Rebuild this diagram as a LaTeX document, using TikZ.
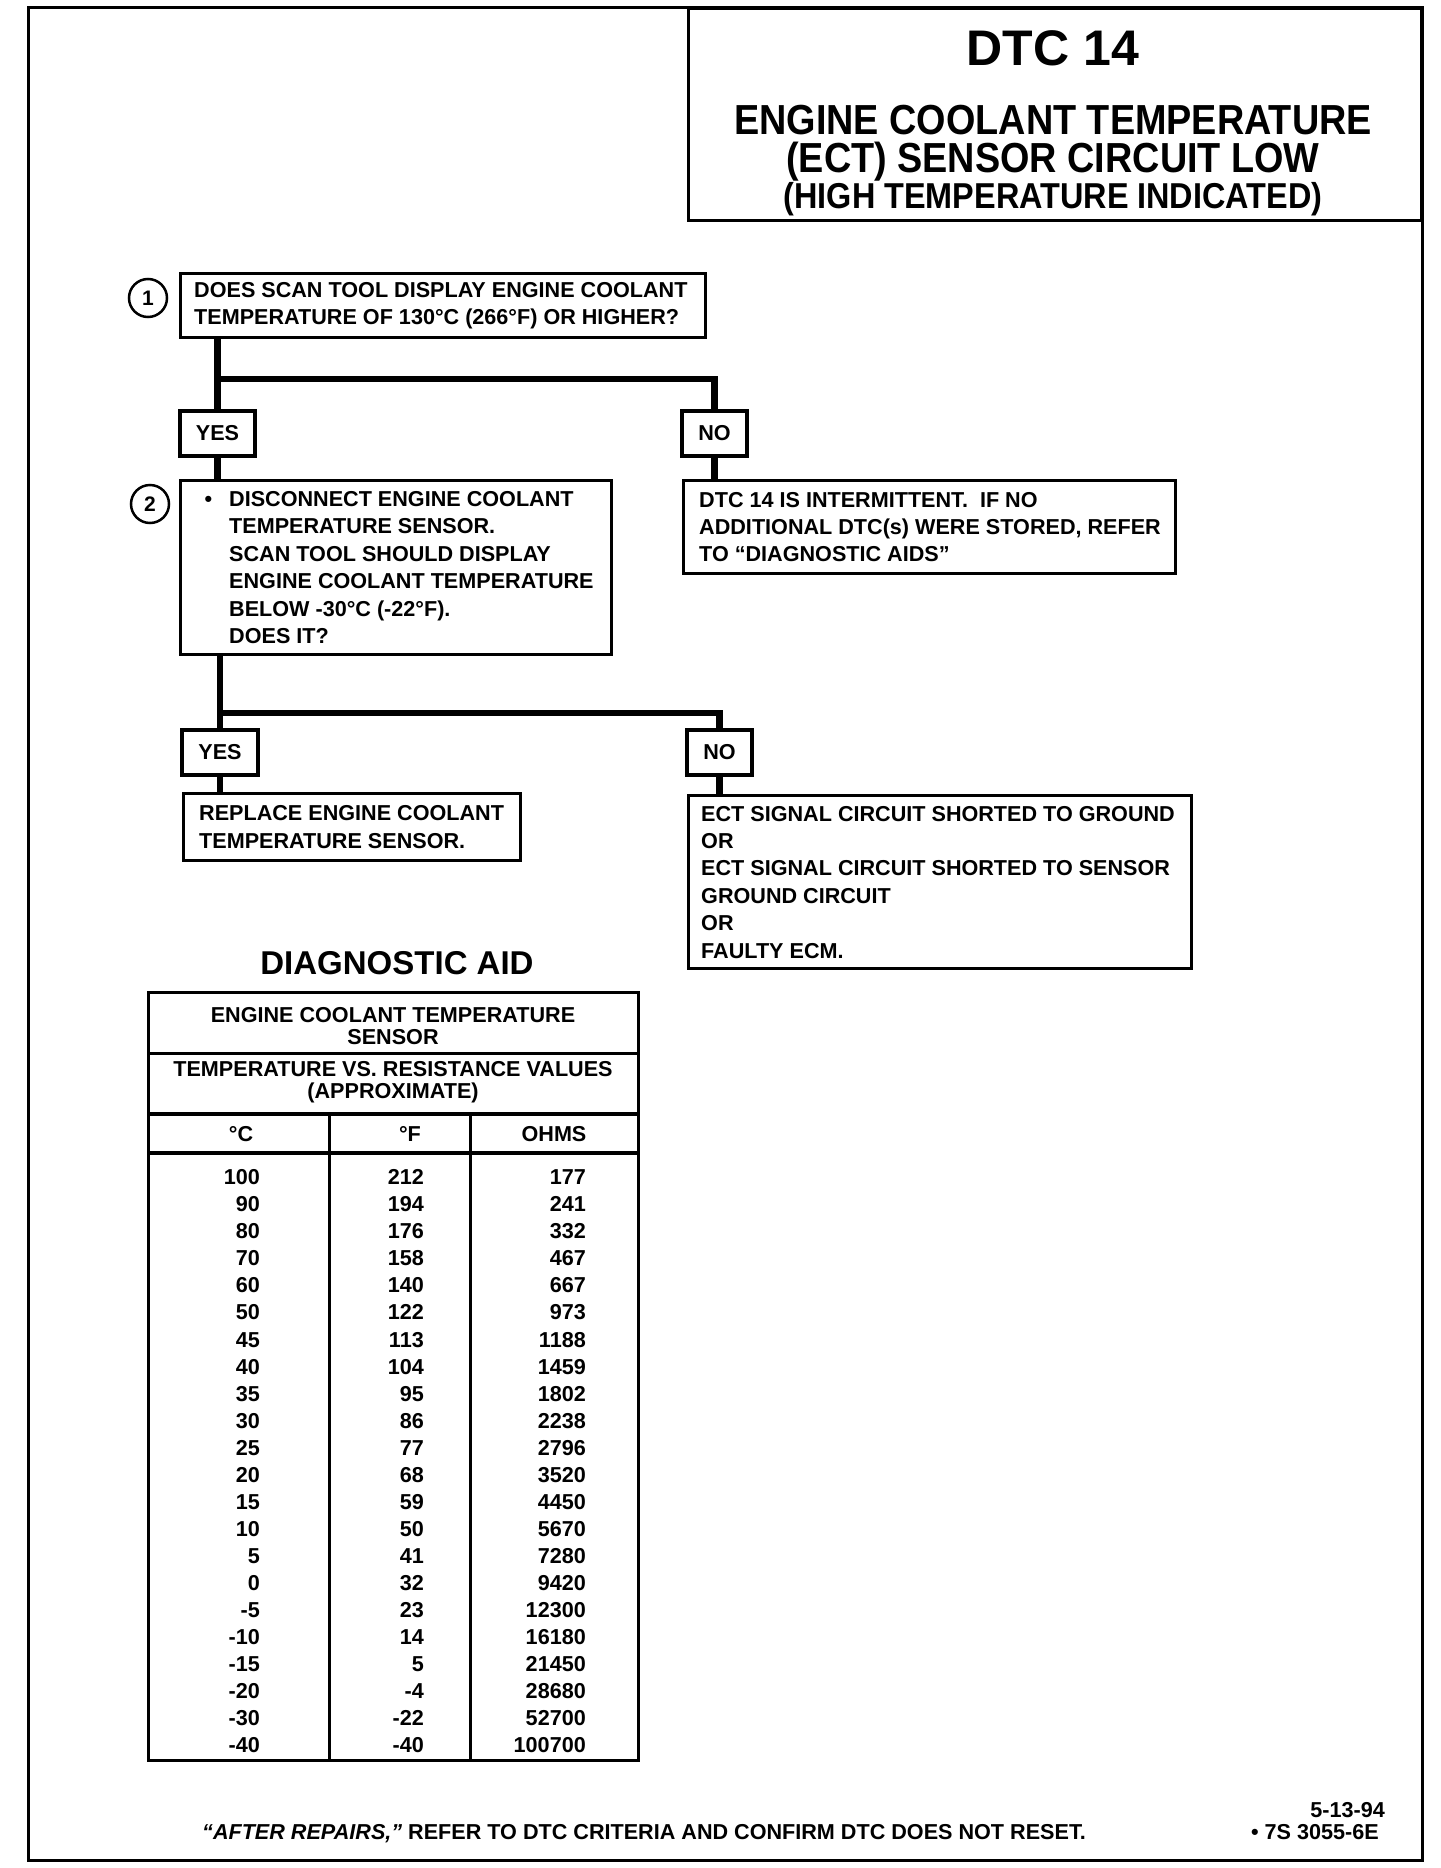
\documentclass[tikz,border=0pt]{standalone}
\usepackage{fontspec}
\setmainfont{Liberation Sans}
\newfontfamily\condfont[FakeStretch=0.9]{Liberation Sans}
\usetikzlibrary{calc}
\begin{document}
\begin{tikzpicture}[x=1pt,y=-1pt,
  txt/.style={font=\fontsize{21.6}{27.4}\selectfont\bfseries, inner sep=0pt, align=left, anchor=west},
  box/.style={draw, line width=3.2pt, inner sep=0pt, anchor=north west},
  tag/.style={draw, line width=3.2pt, inner sep=0pt, minimum height=45pt, font=\fontsize{21.6}{26}\selectfont\bfseries},
  conn/.style={line width=6.5pt, line join=miter},
  num/.style={draw, circle, line width=2.5pt, minimum size=38pt, inner sep=0pt, font=\fontsize{21}{24}\selectfont\bfseries},
  cell/.style={font=\fontsize{21.6}{22}\selectfont\bfseries, inner sep=0pt, align=center},
  val/.style={font=\fontsize{21.6}{24}\selectfont\bfseries, inner sep=0pt, anchor=base east},
]
\useasboundingbox (0,0) rectangle (1440,1868);
\fill[white] (0,0) rectangle (1440,1868);
% outer frame
\draw[line width=3pt] (28.6,7.1) rectangle (1422,1860);
% title box
\node[draw, line width=3pt, inner sep=0pt, minimum width=733pt, minimum height=212pt, anchor=north west] (tbox) at (687,7) {};
\node[font=\fontsize{50}{50}\selectfont\bfseries, inner sep=0pt, anchor=base] (tt1) at (1053,66) {DTC 14};
\node[font=\condfont\fontsize{42}{42}\selectfont\bfseries, inner sep=0pt, anchor=base] (tt2) at (1053,134) {ENGINE COOLANT TEMPERATURE};
\node[font=\condfont\fontsize{42}{42}\selectfont\bfseries, inner sep=0pt, anchor=base] (tt3) at (1053,172) {(ECT) SENSOR CIRCUIT LOW};
\node[font=\condfont\fontsize{36}{36}\selectfont\bfseries, inner sep=0pt, anchor=base] (tt4) at (1053,208) {(HIGH TEMPERATURE INDICATED)};

% boxes
\node[box, minimum width=525pt, minimum height=64pt] (b1) at (179,272) {};
\node[txt] (t1) at ($(b1.west)+(15,0)$) {DOES SCAN TOOL DISPLAY ENGINE COOLANT\\TEMPERATURE OF 130°C (266°F) OR HIGHER?};
\node[num] (c1) at (148,298) {1};

\node[tag, minimum width=75pt] (y1) at (217.5,433.5) {YES};
\node[tag, minimum width=65pt] (n1) at (714.5,433.5) {NO};

\node[box, minimum width=431pt, minimum height=174pt] (b2) at (179,479) {};
\node[txt] (t2) at ($(b2.west)+(50,0)$) {\leavevmode\llap{\textbullet\hspace{17pt}}DISCONNECT ENGINE COOLANT\\TEMPERATURE SENSOR.\\SCAN TOOL SHOULD DISPLAY\\ENGINE COOLANT TEMPERATURE\\BELOW -30°C (-22°F).\\DOES IT?};
\node[num] (c2) at (150,504) {2};

\node[box, minimum width=492pt, minimum height=93pt] (r1) at (682,479) {};
\node[txt] (tr1) at ($(r1.west)+(17,0)$) {DTC 14 IS INTERMITTENT.\ \ IF NO\\ADDITIONAL DTC(s) WERE STORED, REFER\\TO “DIAGNOSTIC AIDS”};

\node[tag, minimum width=76pt] (y2) at (220,752.5) {YES};
\node[tag, minimum width=65pt] (n2) at (719.5,752.5) {NO};

\node[box, minimum width=337pt, minimum height=67pt] (b3) at (182,792) {};
\node[txt] (t3) at ($(b3.west)+(17,0)$) {REPLACE ENGINE COOLANT\\TEMPERATURE SENSOR.};

\node[box, minimum width=503pt, minimum height=173pt] (r2) at (687,794) {};
\node[txt] (tr2) at ($(r2.west)+(14,0)$) {ECT SIGNAL CIRCUIT SHORTED TO GROUND\\OR\\ECT SIGNAL CIRCUIT SHORTED TO SENSOR\\GROUND CIRCUIT\\OR\\FAULTY ECM.};

% connectors
\coordinate (j1) at (y1.north |- 0,379);
\coordinate (j2) at (y2.north |- 0,713);
\draw[conn] (b1.south -| y1.north) -- (y1.north);
\draw[conn] (j1) -| (n1.north);
\draw[conn] (y1.south) -- (y1.south |- b2.north);
\draw[conn] (n1.south) -- (n1.south |- r1.north);
\draw[conn] (b2.south -| y2.north) -- (y2.north);
\draw[conn] (j2) -| (n2.north);
\draw[conn] (y2.south) -- (y2.south |- b3.north);
\draw[conn] (n2.south) -- (n2.south |- r2.north);

% diagnostic aid
\node[font=\fontsize{33}{33}\selectfont\bfseries, inner sep=0pt, anchor=base] (da) at (397,974) {DIAGNOSTIC AID};
\draw[line width=3pt] (148,992) rectangle (638,1760);
\draw[line width=3pt] (148,1053) -- (638,1053);
\draw[line width=3.5pt] (148,1114) -- (638,1114);
\draw[line width=4pt] (148,1153) -- (638,1153);
\draw[line width=3pt] (329,1114) -- (329,1760);
\draw[line width=3pt] (470,1114) -- (470,1760);
\node[cell] (h1) at (393,1026) {ENGINE COOLANT TEMPERATURE\\SENSOR};
\node[cell] (h2) at (393,1082.5) {TEMPERATURE VS. RESISTANCE VALUES\\(APPROXIMATE)};
\node[cell] (hc) at (241,1134) {°C};
\node[cell] (hf) at (410,1134) {°F};
\node[cell] (ho) at (554,1134) {OHMS};
\foreach \c/\f/\o [count=\i] in {100/212/177,90/194/241,80/176/332,70/158/467,60/140/667,50/122/973,45/113/1188,40/104/1459,35/95/1802,30/86/2238,25/77/2796,20/68/3520,15/59/4450,10/50/5670,5/41/7280,0/32/9420,-5/23/12300,-10/14/16180,-15/5/21450,-20/-4/28680,-30/-22/52700,-40/-40/100700}{
  \node[val] (vc\i) at (260,{1184.7+27.05*(\i-1)}) {\c};
  \node[val] (vf\i) at (424,{1184.7+27.05*(\i-1)}) {\f};
  \node[val] (vo\i) at (586,{1184.7+27.05*(\i-1)}) {\o};
}
% footer
\node[font=\fontsize{21.6}{24}\selectfont\bfseries, inner sep=0pt, anchor=base west] (foot) at (202,1839) {\textit{“AFTER REPAIRS,”} REFER TO DTC CRITERIA AND CONFIRM DTC DOES NOT RESET.};
\node[font=\fontsize{21.6}{24}\selectfont\bfseries, inner sep=0pt, anchor=base east] (date) at (1385,1817) {5-13-94};
\node[font=\fontsize{21.6}{24}\selectfont\bfseries, inner sep=0pt, anchor=base east] (code) at (1379,1839) {\textbullet\ 7S 3055-6E};
\end{tikzpicture}
\end{document}
